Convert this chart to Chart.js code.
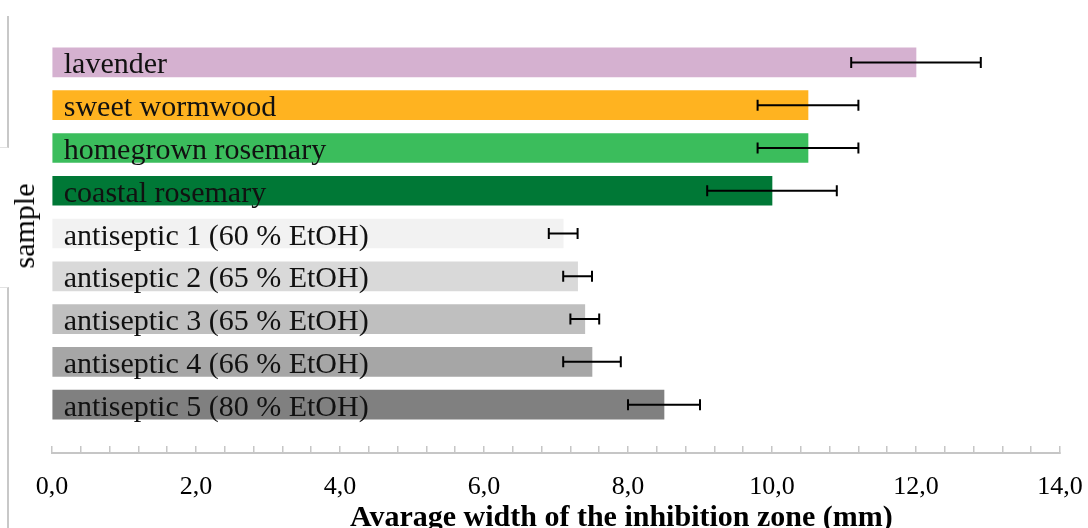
<!DOCTYPE html>
<html>
<head>
<meta charset="utf-8">
<script src="https://cdn.jsdelivr.net/npm/chart.js@4.4.1/dist/chart.umd.min.js"></script>
<style>
  body { margin: 0; background: #fff; }
  #wrap { position: relative; width: 1088px; height: 528px; overflow: hidden; }
  #inhibition-chart { position: absolute; left: 0; top: 0; }
  .frame { position: absolute; left: 0; width: 7px; border-right: 2px solid #c8c8c8; }
  .axis-title { position: absolute; font-family: 'Liberation Serif', 'Times New Roman', serif; font-size: 30px; line-height: 30px; white-space: nowrap; color: #000; }
</style>
</head>
<body>
<div id="wrap">
  <div class="frame" style="top:16px;height:131px;border-bottom:1px solid #e2e2e2;"></div>
  <div class="frame" style="top:287px;height:241px;border-top:1px solid #e2e2e2;"></div>
  <canvas id="inhibition-chart" width="1088" height="528"></canvas>
  <div class="axis-title" style="left:24px;top:226px;transform:translate(-50%,-50%) rotate(-90deg);">sample</div>
  <div class="axis-title" style="left:350px;top:501px;font-weight:bold;">Avarage width of the inhibition zone (mm)</div>
</div>
<script>
const samples = [
  'lavender',
  'sweet wormwood',
  'homegrown rosemary',
  'coastal rosemary',
  'antiseptic 1 (60 % EtOH)',
  'antiseptic 2 (65 % EtOH)',
  'antiseptic 3 (65 % EtOH)',
  'antiseptic 4 (66 % EtOH)',
  'antiseptic 5 (80 % EtOH)'
];
const widths = [12.0, 10.5, 10.5, 10.0, 7.1, 7.3, 7.4, 7.5, 8.5];
const errors = [0.9, 0.7, 0.7, 0.9, 0.2, 0.2, 0.2, 0.4, 0.5];
const barColors = ['#D5B1D0', '#FFB320', '#3BBD5C', '#007836', '#F2F2F2', '#D9D9D9', '#BFBFBF', '#A6A6A6', '#808080'];
const xTicksMin = 0;
const xTicksMax = 14;
const xMinorStep = 0.4;
const xMajorStep = 2;

const serif = "'Liberation Serif', 'Times New Roman', serif";

// sample names written inside each bar, starting near the base
const barLabelsPlugin = {
  id: 'barLabels',
  afterDatasetsDraw(chart) {
    const { ctx } = chart;
    const meta = chart.getDatasetMeta(0);
    ctx.save();
    ctx.font = `30px ${serif}`;
    ctx.fillStyle = '#111';
    ctx.textAlign = 'left';
    ctx.textBaseline = 'alphabetic';
    meta.data.forEach((bar, i) => {
      ctx.fillText(samples[i], bar.base + 11, bar.y + 11);
    });
    ctx.restore();
  }
};

// horizontal error bars with caps
const errorBarsPlugin = {
  id: 'errorBars',
  afterDatasetsDraw(chart) {
    const { ctx } = chart;
    const xScale = chart.scales.x;
    const meta = chart.getDatasetMeta(0);
    ctx.save();
    ctx.strokeStyle = '#000';
    ctx.lineWidth = 2;
    meta.data.forEach((bar, i) => {
      const lo = xScale.getPixelForValue(widths[i] - errors[i]);
      const hi = xScale.getPixelForValue(widths[i] + errors[i]);
      const y = bar.y;
      ctx.beginPath();
      ctx.moveTo(lo, y);
      ctx.lineTo(hi, y);
      ctx.moveTo(lo, y - 5.5);
      ctx.lineTo(lo, y + 5.5);
      ctx.moveTo(hi, y - 5.5);
      ctx.lineTo(hi, y + 5.5);
      ctx.stroke();
    });
    ctx.restore();
  }
};

const isMajor = (v) => Math.abs(v / xMajorStep - Math.round(v / xMajorStep)) < 1e-6;

new Chart(document.getElementById('inhibition-chart'), {
  type: 'bar',
  data: {
    datasets: [{
      data: widths.map((w, i) => ({ x: w, y: i })),
      backgroundColor: barColors,
      borderWidth: 0,
      barThickness: 29
    }]
  },
  options: {
    indexAxis: 'y',
    responsive: false,
    animation: false,
    layout: { padding: { left: 52, right: 28, top: 41, bottom: 0 } },
    scales: {
      y: {
        type: 'linear',
        display: false,
        offset: false,
        reverse: true,
        min: -0.5,
        max: 9.13
      },
      x: {
        type: 'linear',
        min: xTicksMin,
        max: xTicksMax,
        // tick padding would otherwise be added to the side overflow
        afterFit: (scale) => {
          scale.paddingLeft = 0;
          scale.paddingRight = 0;
        },
        border: { display: true, color: '#c6c6c6', width: 2 },
        grid: {
          drawOnChartArea: false,
          drawTicks: true,
          tickLength: -7,
          color: '#c6c6c6',
          lineWidth: 1.5
        },
        ticks: {
          stepSize: xMinorStep,
          autoSkip: false,
          maxRotation: 0,
          padding: 28,
          color: '#000',
          font: { family: serif, size: 26, lineHeight: 1 },
          callback: (v) => (isMajor(v) ? Number(v).toFixed(1).replace('.', ',') : '')
        }
      }
    },
    plugins: {
      legend: { display: false },
      tooltip: { enabled: false }
    }
  },
  plugins: [barLabelsPlugin, errorBarsPlugin]
});
</script>
</body>
</html>
